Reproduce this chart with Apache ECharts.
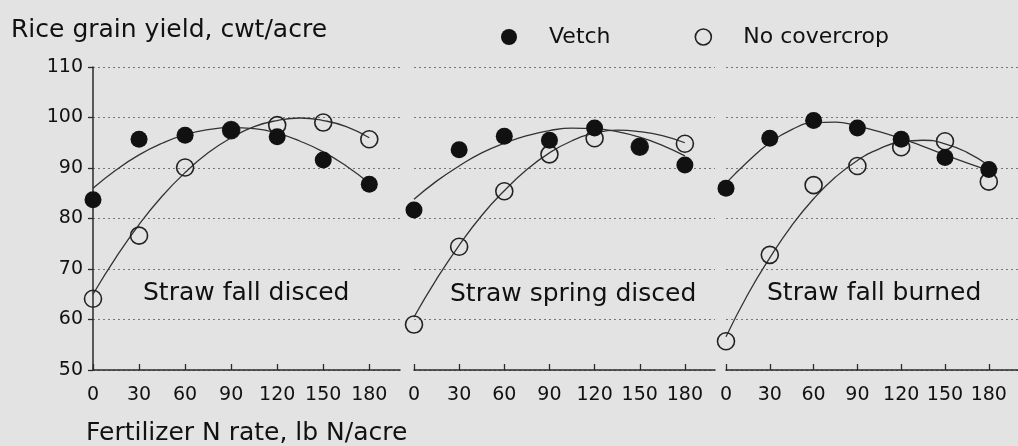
<!DOCTYPE html>
<html>
<head>
<meta charset="utf-8">
<script src="https://cdn.jsdelivr.net/npm/echarts@6/dist/echarts.min.js"></script>
<style>
html,body{margin:0;padding:0;background:#e3e3e3;}
#chart{width:1018px;height:446px;}
</style>
</head>
<body>
<div id="chart"></div>
<script>
// ---- data ----
const xRates = [0, 30, 60, 90, 120, 150, 180];
const xTickLabels = [0, 30, 60, 90, 120, 150, 180];
const yTicks = [50, 60, 70, 80, 90, 100, 110];
const panelNames = ['Straw fall disced', 'Straw spring disced', 'Straw fall burned'];

const vetch1 = [83.7, 95.7, 96.5, 97.5, 96.2, 91.6, 86.8];
const nocc1  = [64.1, 76.6, 90.1, 97.5, 98.5, 99.0, 95.7];
const vetch2 = [81.7, 93.6, 96.3, 95.5, 97.9, 94.2, 90.6];
const nocc2  = [59.0, 74.4, 85.4, 92.7, 95.9, 94.2, 94.8];
const vetch3 = [86.0, 95.9, 99.4, 97.9, 95.7, 92.1, 89.7];
const nocc3  = [55.7, 72.8, 86.6, 90.4, 94.1, 95.3, 87.3];

// fitted response curves at every 15 lb N/acre
const curveX = [0, 15, 30, 45, 60, 75, 90, 105, 120, 135, 150, 165, 180];
const vetchFit1 = [86.0, 89.6, 92.6, 94.9, 96.6, 97.6, 98.0, 97.8, 96.9, 95.3, 93.2, 90.4, 87.0];
const noccFit1  = [65.0, 72.3, 78.8, 84.4, 89.1, 93.0, 96.0, 98.2, 99.4, 99.9, 99.4, 98.2, 96.0];
const vetchFit2 = [83.8, 87.4, 90.4, 93.0, 94.9, 96.4, 97.4, 97.9, 97.8, 97.2, 96.1, 94.5, 92.4];
const noccFit2  = [60.5, 68.0, 74.7, 80.6, 85.5, 89.7, 93.0, 95.4, 96.9, 97.5, 97.2, 96.4, 95.0];
const vetchFit3 = [87.0, 91.3, 95.0, 97.6, 99.0, 99.1, 98.3, 97.2, 95.8, 94.3, 92.6, 91.0, 89.5];
const noccFit3  = [56.6, 65.0, 72.2, 78.6, 83.9, 88.2, 91.5, 93.8, 95.2, 95.5, 94.8, 93.1, 90.5];

const vetchSets = [vetch1, vetch2, vetch3];
const noccSets = [nocc1, nocc2, nocc3];
const vetchFits = [vetchFit1, vetchFit2, vetchFit3];
const noccFits = [noccFit1, noccFit2, noccFit3];

// ---- layout / style ----
const ink = '#111';
const bg = '#e3e3e3';
const font = 'DejaVu Sans';
const grids = [
  {left: 93, top: 67, width: 307, height: 303},
  {left: 414, top: 67, width: 301, height: 303},
  {left: 726, top: 67, width: 299, height: 303}
];
const labelPos = [[143, 281], [450, 282], [767, 281]];

const pair = (xs, ys) => xs.map((x, i) => [x, ys[i]]);

const xAxes = grids.map((g, i) => ({
  type: 'value', gridIndex: i, min: 0, max: 200,
  axisLine: {show: true, lineStyle: {color: '#2a2a2a', width: 1.5}},
  axisTick: {show: true, inside: true, length: 6, customValues: xTickLabels, lineStyle: {color: '#2a2a2a', width: 1.3}},
  axisLabel: {show: true, customValues: xTickLabels, fontFamily: font, fontSize: 19, color: ink, margin: 16},
  splitLine: {show: false}
}));
const yAxes = grids.map((g, i) => ({
  type: 'value', gridIndex: i, min: 50, max: 110, interval: 10,
  axisLine: {show: i === 0, lineStyle: {color: '#2a2a2a', width: 1.5}},
  axisTick: {show: i === 0, inside: false, length: 5, lineStyle: {color: '#2a2a2a', width: 1.3}},
  axisLabel: {show: i === 0, fontFamily: font, fontSize: 19, color: ink, margin: 10},
  splitLine: {show: true, lineStyle: {color: '#777', width: 1, type: [2, 3]}}
}));

const series = [];
for (let i = 0; i < 3; i++) {
  series.push({
    name: 'Vetch fit', type: 'line', xAxisIndex: i, yAxisIndex: i, smooth: true,
    showSymbol: false, silent: true, z: 2,
    lineStyle: {color: '#333', width: 1.3}, data: pair(curveX, vetchFits[i])
  });
  series.push({
    name: 'No covercrop fit', type: 'line', xAxisIndex: i, yAxisIndex: i, smooth: true,
    showSymbol: false, silent: true, z: 2,
    lineStyle: {color: '#333', width: 1.3}, data: pair(curveX, noccFits[i])
  });
  series.push({
    name: 'No covercrop', type: 'scatter', xAxisIndex: i, yAxisIndex: i, symbol: 'circle', symbolSize: 17, z: 3,
    itemStyle: {color: 'rgba(0,0,0,0)', borderColor: '#222', borderWidth: 1.6, opacity: 1},
    data: pair(xRates, noccSets[i])
  });
  series.push({
    name: 'Vetch', type: 'scatter', xAxisIndex: i, yAxisIndex: i, symbol: 'circle', symbolSize: 17, z: 4,
    itemStyle: {color: '#111', opacity: 1},
    data: pair(xRates, vetchSets[i])
  });
}

const titles = [
  {text: 'Rice grain yield, cwt/acre', left: 11, top: 18, padding: 0,
   textStyle: {fontFamily: font, fontSize: 25, fontWeight: 'normal', color: ink}},
  {text: 'Fertilizer N rate, lb N/acre', left: 86, top: 421, padding: 0,
   textStyle: {fontFamily: font, fontSize: 25, fontWeight: 'normal', color: ink}}
].concat(panelNames.map((n, i) => ({
  text: n, left: labelPos[i][0], top: labelPos[i][1], padding: 0,
  textStyle: {fontFamily: font, fontSize: 25, fontWeight: 'normal', color: ink}
})));

const option = {
  backgroundColor: bg,
  animation: false,
  title: titles,
  legend: {
    left: 501, top: 26, padding: 0, itemGap: 84, itemWidth: 70, itemHeight: 16,
    textStyle: {fontFamily: font, fontSize: 22, color: ink},
    data: [
      {name: 'Vetch', icon: 'circle', itemStyle: {color: '#111'}},
      {name: 'No covercrop', icon: 'circle', itemStyle: {color: 'rgba(0,0,0,0)', borderColor: '#222', borderWidth: 1.6}}
    ]
  },
  grid: grids,
  xAxis: xAxes,
  yAxis: yAxes,
  series: series
};

const chart = echarts.init(document.getElementById('chart'), null, {renderer: 'canvas'});
chart.setOption(option);
</script>
</body>
</html>
